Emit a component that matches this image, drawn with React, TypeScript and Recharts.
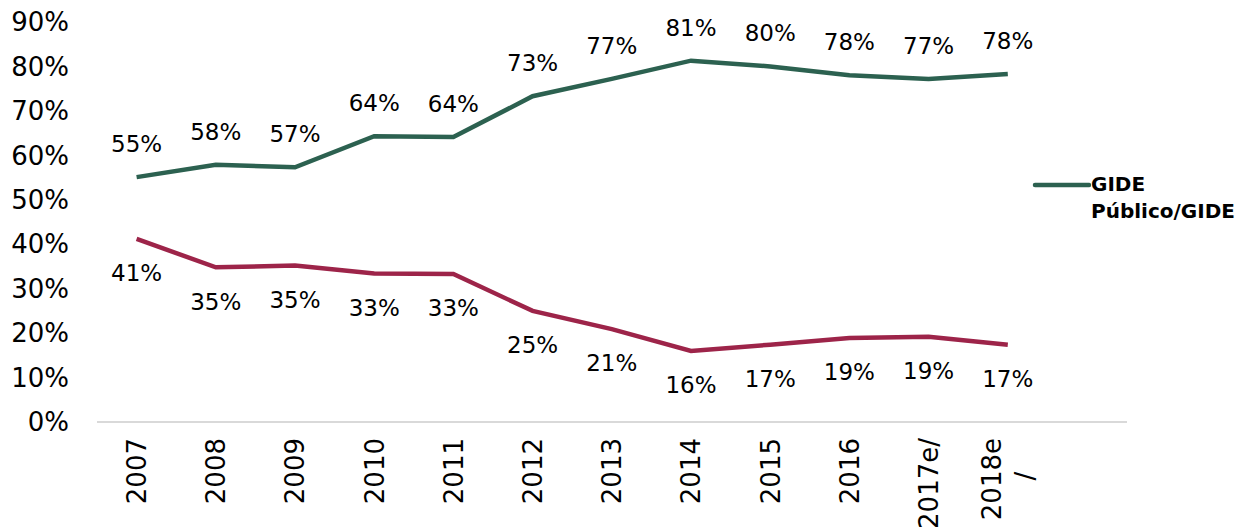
import React from 'react';
import { LineChart, Line, XAxis, YAxis, LabelList, Legend } from 'recharts';

const categories = ['2007', '2008', '2009', '2010', '2011', '2012', '2013', '2014', '2015', '2016', '2017e/', '2018e/'];
const publicoShare = [55.1, 57.9, 57.3, 64.3, 64.1, 73.3, 77.2, 81.3, 80.0, 78.0, 77.2, 78.3];
const otherShare = [41.2, 34.8, 35.2, 33.4, 33.3, 25.0, 20.9, 16.0, 17.4, 18.9, 19.2, 17.4];
const yTicks = [0, 10, 20, 30, 40, 50, 60, 70, 80, 90];
const legendLines = ['GIDE', 'Público/GIDE'];

const GREEN = '#2C6150';
const RED = '#9D2449';
const FONT = '"DejaVu Sans", sans-serif';

const data = categories.map((c, i) => ({ cat: c, publico: publicoShare[i], other: otherShare[i] }));

const fmt = (v: any) => (v == null ? '' : `${Math.round(Number(v))}%`);

const XTick = (props: any) => {
  const { x, y, payload } = props;
  const v: string = payload.value;
  if (!v) return null;
  const top = y + 16;
  if (v === '2018e/') {
    return (
      <g transform={`translate(${x},${top}) rotate(-90)`}>
        <text x={0} y={-16} dy="0.36em" textAnchor="end" fontSize={26} fontFamily={FONT} fill="#000">2018e</text>
        <text x={-38} y={17} dy="0.36em" textAnchor="middle" fontSize={26} fontFamily={FONT} fill="#000">/</text>
      </g>
    );
  }
  return (
    <g transform={`translate(${x},${top}) rotate(-90)`}>
      <text x={0} y={0} dy="0.36em" textAnchor="end" fontSize={26} fontFamily={FONT} fill="#000">{v}</text>
    </g>
  );
};

const LegendContent = () => (
  <div style={{ display: 'flex', alignItems: 'flex-start', fontFamily: FONT, fontWeight: 700, fontSize: 20, color: '#000' }}>
    <svg width={60} height={24} style={{ flex: 'none' }}>
      <line x1={4} y1={12} x2={58} y2={12} stroke={GREEN} strokeWidth={4.5} strokeLinecap="round" />
    </svg>
    <div style={{ lineHeight: '27px', marginTop: -2 }}>
      {legendLines.map((l) => (
        <div key={l}>{l}</div>
      ))}
    </div>
  </div>
);

export default function App() {
  return (
    <div style={{ position: 'absolute', left: 0, top: 0, width: 1254, height: 527, background: '#fff' }}>
      <LineChart width={1254} height={527} data={data} margin={{ top: 22, right: 127, bottom: 0, left: 0 }}>
        <XAxis
          dataKey="cat"
          interval={0}
          height={105}
          tickSize={0}
          tickMargin={0}
          padding={{ left: 39.6, right: 119.2 }}
          tick={<XTick />}
          axisLine={{ stroke: '#D9D9D9', strokeWidth: 2 }}
          tickLine={false}
        />
        <YAxis
          width={97}
          domain={[0, 90]}
          ticks={yTicks}
          tickFormatter={(v: number) => `${v}%`}
          axisLine={false}
          tickLine={false}
          tickSize={0}
          tickMargin={28}
          tick={{ fontSize: 26, fontFamily: FONT, fill: '#000' }}
          interval={0}
        />
        <Legend
          layout="vertical"
          align="center"
          verticalAlign="middle"
          wrapperStyle={{ left: 1031, top: 173, width: 223 }}
          content={<LegendContent />}
        />
        <Line
          type="linear"
          dataKey="publico"
          name="GIDE Público/GIDE"
          stroke={GREEN}
          strokeWidth={4.5}
          dot={false}
          activeDot={false}
          isAnimationActive={false}
        >
          <LabelList dataKey="publico" position="top" offset={25} formatter={fmt} style={{ fontSize: 23, fontFamily: FONT, fill: '#000' }} />
        </Line>
        <Line
          type="linear"
          dataKey="other"
          legendType="none"
          stroke={RED}
          strokeWidth={4.5}
          dot={false}
          activeDot={false}
          isAnimationActive={false}
        >
          <LabelList dataKey="other" position="bottom" offset={26} formatter={fmt} style={{ fontSize: 23, fontFamily: FONT, fill: '#000' }} />
        </Line>
      </LineChart>
    </div>
  );
}
